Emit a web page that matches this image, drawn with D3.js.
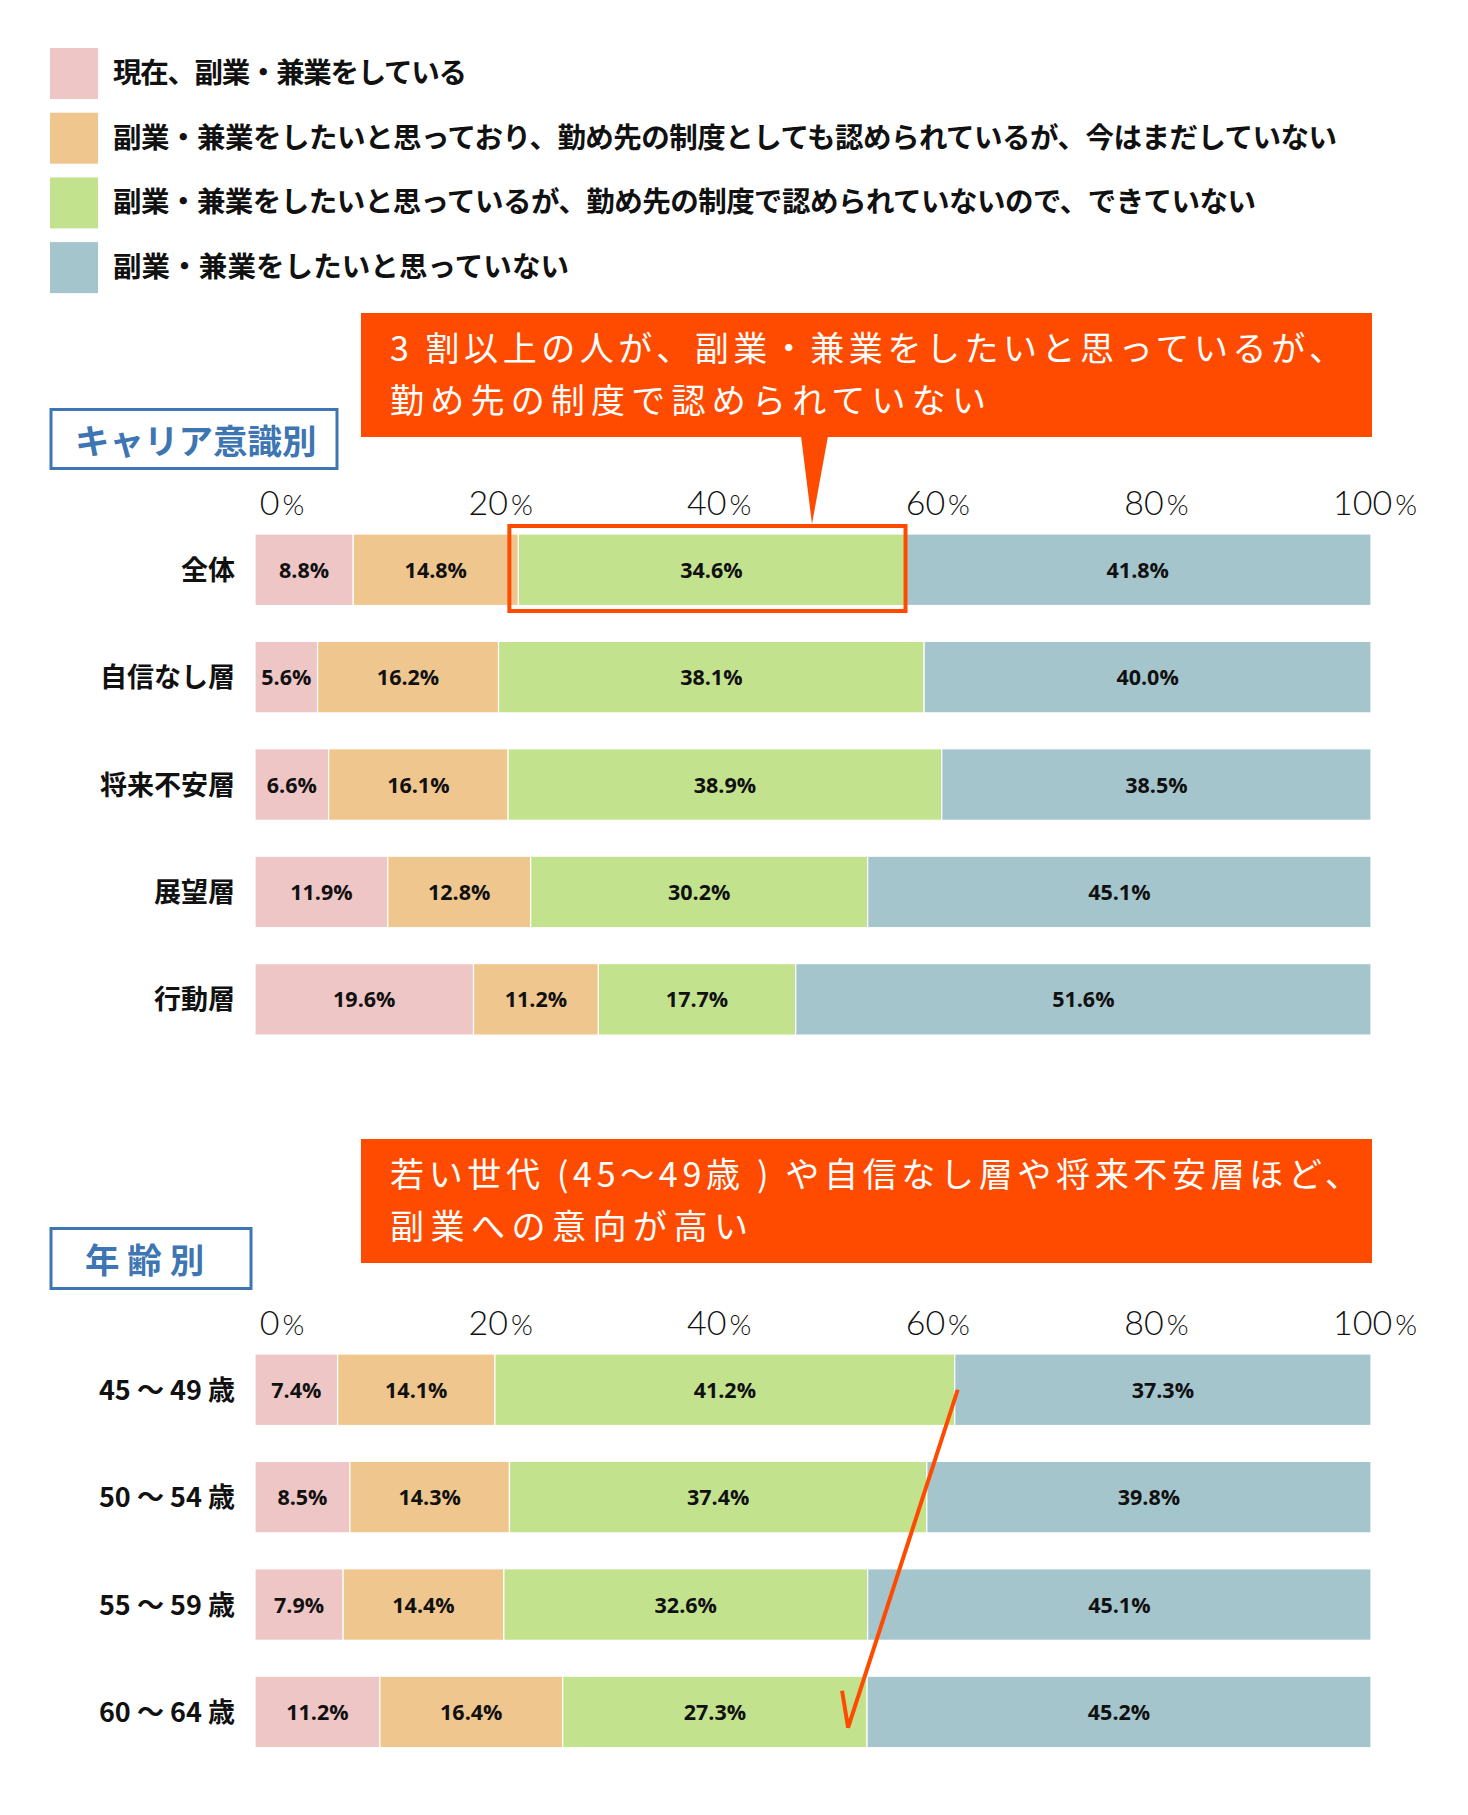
<!DOCTYPE html>
<html><head><meta charset="utf-8">
<script src="https://cdn.jsdelivr.net/npm/d3@7"></script>
<style>body{margin:0;background:#fff}svg{display:block}</style>
</head><body>
<script>
// ---- data ----
const seriesNames = [
  "現在、副業・兼業をしている",
  "副業・兼業をしたいと思っており、勤め先の制度としても認められているが、今はまだしていない",
  "副業・兼業をしたいと思っているが、勤め先の制度で認められていないので、できていない",
  "副業・兼業をしたいと思っていない"
];
const seriesColors = ["#EFC6C6", "#EFC78E", "#C3E28E", "#A5C5CD"];

const careerCategories = ["全体", "自信なし層", "将来不安層", "展望層", "行動層"];
const careerNow = [8.8, 5.6, 6.6, 11.9, 19.6];
const careerWantAllowed = [14.8, 16.2, 16.1, 12.8, 11.2];
const careerWantNotAllowed = [34.6, 38.1, 38.9, 30.2, 17.7];
const careerNotWant = [41.8, 40.0, 38.5, 45.1, 51.6];

const ageCategories = ["45 ～ 49 歳", "50 ～ 54 歳", "55 ～ 59 歳", "60 ～ 64 歳"];
const ageNow = [7.4, 8.5, 7.9, 11.2];
const ageWantAllowed = [14.1, 14.3, 14.4, 16.4];
const ageWantNotAllowed = [41.2, 37.4, 32.6, 27.3];
const ageNotWant = [37.3, 39.8, 45.1, 45.2];

const tickValues = [0, 20, 40, 60, 80, 100];
const tickLabels = ["0", "20", "40", "60", "80", "100"];

const sectionTitles = ["キャリア意識別", "年 齢 別"];
const callout1 = ["3 割以上の人が、副業・兼業をしたいと思っているが、", "勤め先の制度で認められていない"];
const callout2 = ["若い世代 (45～49歳 ) や自信なし層や将来不安層ほど、", "副業への意向が高い"];

// ---- layout ----
const W = 1468, H = 1815;
const ORANGE = "#FF4B00", BLUE = "#3D76B2";
const JP = "'Noto Sans CJK JP','Noto Sans',sans-serif";
const legendTextWidths = [354, 1224, 1143, 456];

const svg = d3.select("body").append("svg").attr("width", W).attr("height", H);

// legend
const legend = svg.append("g");
seriesNames.forEach((name, i) => {
  const y = 48 + i * 64.7;
  legend.append("rect").attr("x", 50).attr("y", y).attr("width", 48).attr("height", 51)
    .attr("fill", seriesColors[i]);
  legend.append("text").attr("x", 113).attr("y", y + 35)
    .attr("font-family", JP).attr("font-weight", 700).attr("font-size", 28.5)
    .attr("fill", "#111")
    .attr("textLength", legendTextWidths[i]).attr("lengthAdjust", "spacing")
    .text(name);
});

const x = d3.scaleLinear().domain([0, 100]).range([255, 1371]);
const tickX = d3.scaleLinear().domain([0, 100]).range([282, 1375]);

function drawSection(cfg) {
  const g = svg.append("g");
  const n = cfg.categories.length;
  const step = 107.4, bw = 71.5;
  const y = d3.scaleBand().domain(cfg.categories)
    .range([cfg.top, cfg.top + step * (n - 1) + bw])
    .paddingInner(1 - bw / step).paddingOuter(0);

  // title box
  g.append("rect").attr("x", cfg.box[0]).attr("y", cfg.box[1]).attr("width", cfg.box[2]).attr("height", cfg.box[3])
    .attr("fill", "#fff").attr("stroke", BLUE).attr("stroke-width", 3);
  g.append("text").attr("x", cfg.titleX).attr("y", cfg.box[1] + 44)
    .attr("font-family", JP).attr("font-weight", 700).attr("font-size", 34.5)
    .attr("fill", BLUE).text(cfg.title);

  // callout
  g.append("rect").attr("x", 361).attr("y", cfg.callTop).attr("width", 1011).attr("height", 124)
    .attr("fill", ORANGE);
  cfg.callLines.forEach((line, i) => {
    g.append("text").attr("x", 390).attr("y", cfg.callTop + 48 + i * 52)
      .attr("font-family", JP).attr("font-weight", 400).attr("font-size", 34)
      .attr("fill", "#fff")
      .attr("textLength", cfg.callLens[i]).attr("lengthAdjust", "spacing")
      .text(line);
  });

  // tick labels
  const tk = g.append("g");
  tickValues.forEach((v, i) => {
    const t = tk.append("text").attr("x", tickX(v)).attr("y", cfg.top - 19)
      .attr("text-anchor", "middle").attr("font-family", "Lato,'Open Sans',sans-serif")
      .attr("font-weight", 300).attr("fill", "#111");
    t.append("tspan").attr("font-size", 34).text(tickLabels[i]);
    t.append("tspan").attr("font-size", 28).attr("dx", 3).text("%");
  });

  // rows
  const rows = cfg.categories.map((c, i) => {
    const vals = cfg.series.map(s => s[i]);
    const total = d3.sum(vals);
    let cum = 0;
    return { cat: c, segs: vals.map((v, k) => { const s = { k, v, x0: cum / total * 100, x1: (cum + v) / total * 100 }; cum += v; return s; }) };
  });

  const rowG = g.selectAll("g.row").data(rows).join("g").attr("class", "row")
    .attr("transform", d => `translate(0,${y(d.cat)})`);

  rowG.selectAll("rect").data(d => d.segs).join("rect")
    .attr("x", d => x(d.x0)).attr("width", d => x(d.x1) - x(d.x0))
    .attr("y", 0).attr("height", y.bandwidth())
    .attr("fill", d => seriesColors[d.k]).attr("stroke", "#fff").attr("stroke-width", 1.2);

  rowG.selectAll("text.val").data(d => d.segs).join("text").attr("class", "val")
    .attr("x", d => (x(d.x0) + x(d.x1)) / 2).attr("y", y.bandwidth() / 2 + 8)
    .attr("text-anchor", "middle").attr("font-family", "'Open Sans','Noto Sans',sans-serif")
    .attr("font-weight", 700).attr("font-size", 21.5).attr("fill", "#111")
    .text(d => d.v.toFixed(1) + "%");

  g.selectAll("text.cat").data(rows).join("text").attr("class", "cat")
    .attr("x", 235).attr("y", d => y(d.cat) + y.bandwidth() / 2 + 10)
    .attr("text-anchor", "end").attr("font-family", JP).attr("font-weight", 700)
    .attr("font-size", 27).attr("fill", "#111").text(d => d.cat);

  return { y, rows };
}

const career = drawSection({
  top: 534, categories: careerCategories,
  series: [careerNow, careerWantAllowed, careerWantNotAllowed, careerNotWant],
  box: [51, 409.5, 286, 59], titleX: 75, title: sectionTitles[0],
  callTop: 313, callLines: callout1, callLens: [953, 596]
});
const age = drawSection({
  top: 1354, categories: ageCategories,
  series: [ageNow, ageWantAllowed, ageWantNotAllowed, ageNotWant],
  box: [51, 1228.5, 200, 60], titleX: 85, title: sectionTitles[1],
  callTop: 1139, callLines: callout2, callLens: [969, 358]
});

// highlight of the green segment in 全体 + pointer
{
  const seg = career.rows[0].segs[2];
  const yt = career.y(careerCategories[0]);
  const bw = career.y.bandwidth();
  const x0 = x(seg.x0) - 9, x1 = x(seg.x1) + 1;
  svg.append("rect").attr("x", x0).attr("y", yt - 8).attr("width", x1 - x0).attr("height", bw + 13.5)
    .attr("fill", "none").attr("stroke", ORANGE).attr("stroke-width", 4);
  svg.append("path").attr("d", `M801,436 L828,436 L812,${yt - 10} Z`).attr("fill", ORANGE);
}

// arrow across age rows
{
  const s0 = age.rows[0].segs[2], s3 = age.rows[3].segs[2];
  const bw = age.y.bandwidth();
  const xs = x(s0.x1) + 3, ys = age.y(ageCategories[0]) + bw / 2;
  const xe = x(s3.x1) - 19, ye = age.y(ageCategories[3]) + bw - 20;
  svg.append("path")
    .attr("d", `M${xs},${ys} L${xe},${ye} L${xe - 6},${ye - 37}`)
    .attr("fill", "none").attr("stroke", ORANGE).attr("stroke-width", 4)
    .attr("stroke-linejoin", "miter");
}
</script>
</body></html>
